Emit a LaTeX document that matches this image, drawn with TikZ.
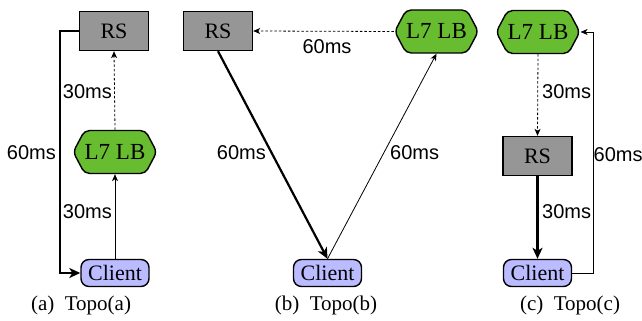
\documentclass[tikz,border=0pt]{standalone}
\usepackage{fontspec}
\setmainfont{Liberation Serif}
\setsansfont{Liberation Sans}
\usetikzlibrary{arrows.meta,shapes.symbols}

\definecolor{rsgray}{RGB}{150,150,150}
\definecolor{lbgreen}{RGB}{104,188,48}
\definecolor{clblue}{RGB}{187,187,255}

\tikzset{
  rsbox/.style={draw=black, line width=1.4pt, fill=rsgray, minimum width=69pt, minimum height=39pt,
    inner sep=0pt, font=\fontsize{22}{24}\selectfont},
  lbhex/.style={draw=black, line width=1.4pt, fill=lbgreen, signal, signal to=east and west,
    signal pointer angle=124, minimum width=64pt, minimum height=43pt, inner sep=0pt,
    rounded corners=5pt, font=\fontsize{23}{25}\selectfont},
  clbox/.style={draw=black, line width=1.4pt, fill=clblue, rounded corners=8pt, minimum width=68pt,
    minimum height=27pt, inner sep=0pt, font=\fontsize{22}{24}\selectfont},
  lat/.style={font=\sffamily\fontsize{20}{22}\selectfont, inner sep=1pt},
  subcap/.style={font=\fontsize{21}{23}\selectfont, inner sep=0pt},
  heavy/.style={line width=2.2pt, -{Stealth[length=11pt,width=10pt,inset=3pt]}},
  light/.style={line width=0.8pt, -{Stealth[length=7pt,width=6pt,inset=2pt]}},
  dashlink/.style={line width=0.8pt, dash pattern=on 2.5pt off 2pt, -{Stealth[length=7pt,width=6pt,inset=2pt]}},
}

\begin{document}
\begin{tikzpicture}[x=1pt, y=-1pt]
\useasboundingbox (0,0) rectangle (642,321);

% ---- Topo(a) ----
\node[rsbox]  (rsA) at (114,31)   {RS};
\node[lbhex]  (lbA) at (115,152)  {L7 LB};
\node[clbox]  (clA) at (115,273)  {Client};
\coordinate (kA) at (60,31);
\draw[dashlink] (lbA.north) -- (rsA.south);
\draw[light] (clA.north) -- (lbA.south);
\draw[heavy] (rsA.west) -- (kA) |- (clA.west);
\node[lat, anchor=east] (tA1) at (113,92)  {30ms};
\node[lat, anchor=east] (tA2) at (113,212) {30ms};
\node[lat, anchor=east] (tA3) at (57,153)  {60ms};
\node[subcap] (capA) at (81,305) {(a)\hspace{0.5em}Topo(a)};

% ---- Topo(b) ----
\node[rsbox]  (rsB) at (218,31)   {RS};
\node[lbhex]  (lbB) at (436.5,31.5) {L7 LB};
\node[clbox]  (clB) at (327.5,273)  {Client};
\draw[dashlink] (lbB.west) -- (rsB.east);
\draw[heavy] (rsB.south) -- (clB.north);
\draw[light] (clB.north) -- (lbB.south);
\node[lat] (tB1) at (327,47)  {60ms};
\node[lat, anchor=east] (tB2) at (267,153) {60ms};
\node[lat, anchor=west] (tB3) at (389,153) {60ms};
\node[subcap] (capB) at (326,305) {(b)\hspace{0.5em}Topo(b)};

% ---- Topo(c) ----
\node[lbhex]  (lbC) at (538,32)    {L7 LB};
\node[rsbox]  (rsC) at (537.5,156) {RS};
\node[clbox]  (clC) at (537.5,273) {Client};
\coordinate (kC) at (593,273);
\draw[dashlink] (lbC.south) -- (rsC.north);
\draw[heavy] (rsC.south) -- (clC.north);
\draw[light] (clC.east) -- (kC) |- (lbC.east);
\node[lat, anchor=west] (tC1) at (541,92)  {30ms};
\node[lat, anchor=west] (tC2) at (541,212) {30ms};
\node[lat, anchor=west, inner sep=0pt] (tC3) at (593.5,155) {60ms};
\node[subcap] (capC) at (570,305) {(c)\hspace{0.5em}Topo(c)};
\end{tikzpicture}
\end{document}
